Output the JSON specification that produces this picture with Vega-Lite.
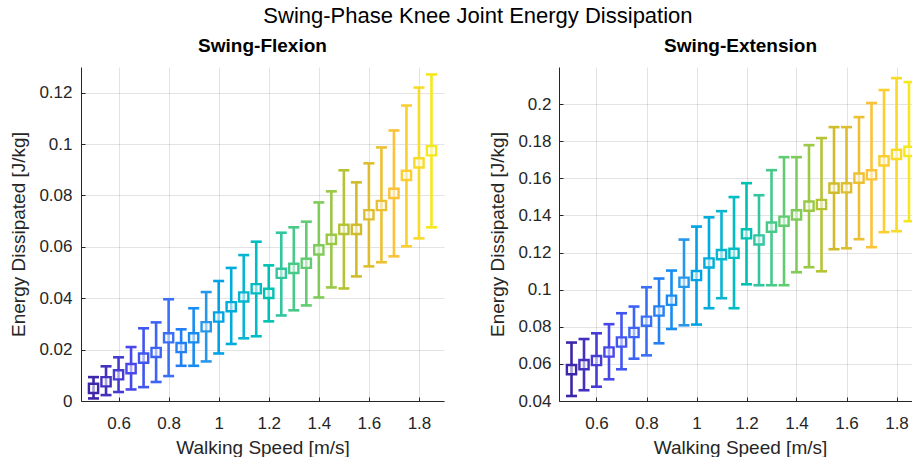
{
  "$schema": "https://vega.github.io/schema/vega-lite/v6.json",
  "padding": {"left": 9, "top": 5, "right": 0, "bottom": 0},
  "background": "white",
  "title": {"text": "Swing-Phase Knee Joint Energy Dissipation", "fontSize": 22, "font": "Liberation Sans", "fontWeight": "normal", "color": "#000000", "anchor": "middle", "offset": 9, "dx": 17},
  "datasets": {
    "flex": [
      {"speed": 0.5, "mean": 0.0049, "lo": 0.001, "hi": 0.0093},
      {"speed": 0.55, "mean": 0.0075, "lo": 0.0023, "hi": 0.0135},
      {"speed": 0.6, "mean": 0.0102, "lo": 0.0035, "hi": 0.017},
      {"speed": 0.65, "mean": 0.0126, "lo": 0.0045, "hi": 0.021},
      {"speed": 0.7, "mean": 0.0167, "lo": 0.0054, "hi": 0.0283},
      {"speed": 0.75, "mean": 0.0189, "lo": 0.0074, "hi": 0.0306},
      {"speed": 0.8, "mean": 0.0246, "lo": 0.0097, "hi": 0.0396},
      {"speed": 0.85, "mean": 0.0208, "lo": 0.0137, "hi": 0.0279},
      {"speed": 0.9, "mean": 0.0246, "lo": 0.0137, "hi": 0.0361},
      {"speed": 0.95, "mean": 0.0289, "lo": 0.0154, "hi": 0.0424},
      {"speed": 1.0, "mean": 0.0327, "lo": 0.0185, "hi": 0.0467},
      {"speed": 1.05, "mean": 0.0367, "lo": 0.0222, "hi": 0.0518},
      {"speed": 1.1, "mean": 0.0405, "lo": 0.0244, "hi": 0.0568},
      {"speed": 1.15, "mean": 0.0437, "lo": 0.0252, "hi": 0.062},
      {"speed": 1.2, "mean": 0.0419, "lo": 0.031, "hi": 0.0528},
      {"speed": 1.25, "mean": 0.0497, "lo": 0.0333, "hi": 0.0655},
      {"speed": 1.3, "mean": 0.0516, "lo": 0.0353, "hi": 0.0676},
      {"speed": 1.35, "mean": 0.0536, "lo": 0.0372, "hi": 0.0698},
      {"speed": 1.4, "mean": 0.0588, "lo": 0.0403, "hi": 0.0773},
      {"speed": 1.45, "mean": 0.0629, "lo": 0.0442, "hi": 0.0816},
      {"speed": 1.5, "mean": 0.0668, "lo": 0.0438, "hi": 0.0898},
      {"speed": 1.55, "mean": 0.0668, "lo": 0.0485, "hi": 0.0851},
      {"speed": 1.6, "mean": 0.0725, "lo": 0.0524, "hi": 0.0925},
      {"speed": 1.65, "mean": 0.0761, "lo": 0.054, "hi": 0.0987},
      {"speed": 1.7, "mean": 0.0808, "lo": 0.0563, "hi": 0.1053},
      {"speed": 1.75, "mean": 0.0878, "lo": 0.0602, "hi": 0.115},
      {"speed": 1.8, "mean": 0.0927, "lo": 0.0633, "hi": 0.122},
      {"speed": 1.85, "mean": 0.0974, "lo": 0.0676, "hi": 0.1271}
    ],
    "ext": [
      {"speed": 0.5, "mean": 0.0569, "lo": 0.0427, "hi": 0.0715},
      {"speed": 0.55, "mean": 0.0596, "lo": 0.0458, "hi": 0.0734},
      {"speed": 0.6, "mean": 0.0618, "lo": 0.0477, "hi": 0.0765},
      {"speed": 0.65, "mean": 0.0664, "lo": 0.0517, "hi": 0.0814},
      {"speed": 0.7, "mean": 0.0718, "lo": 0.0571, "hi": 0.0873},
      {"speed": 0.75, "mean": 0.0769, "lo": 0.0628, "hi": 0.0909},
      {"speed": 0.8, "mean": 0.083, "lo": 0.0646, "hi": 0.1013},
      {"speed": 0.85, "mean": 0.0885, "lo": 0.0711, "hi": 0.106},
      {"speed": 0.9, "mean": 0.0943, "lo": 0.0788, "hi": 0.1103},
      {"speed": 0.95, "mean": 0.104, "lo": 0.0808, "hi": 0.127},
      {"speed": 1.0, "mean": 0.1076, "lo": 0.0812, "hi": 0.134},
      {"speed": 1.05, "mean": 0.1144, "lo": 0.09, "hi": 0.139},
      {"speed": 1.1, "mean": 0.1189, "lo": 0.0954, "hi": 0.1423},
      {"speed": 1.15, "mean": 0.1196, "lo": 0.09, "hi": 0.1499},
      {"speed": 1.2, "mean": 0.1301, "lo": 0.1029, "hi": 0.1574},
      {"speed": 1.25, "mean": 0.1268, "lo": 0.1024, "hi": 0.1509},
      {"speed": 1.3, "mean": 0.1337, "lo": 0.1024, "hi": 0.1644},
      {"speed": 1.35, "mean": 0.1369, "lo": 0.1024, "hi": 0.1714},
      {"speed": 1.4, "mean": 0.1403, "lo": 0.1094, "hi": 0.1714},
      {"speed": 1.45, "mean": 0.145, "lo": 0.1121, "hi": 0.1779},
      {"speed": 1.5, "mean": 0.1459, "lo": 0.1099, "hi": 0.1817},
      {"speed": 1.55, "mean": 0.1547, "lo": 0.1218, "hi": 0.1876},
      {"speed": 1.6, "mean": 0.1549, "lo": 0.1223, "hi": 0.1876},
      {"speed": 1.65, "mean": 0.1601, "lo": 0.1272, "hi": 0.193},
      {"speed": 1.7, "mean": 0.1619, "lo": 0.1229, "hi": 0.2006},
      {"speed": 1.75, "mean": 0.1694, "lo": 0.131, "hi": 0.2076},
      {"speed": 1.8, "mean": 0.1729, "lo": 0.1315, "hi": 0.214},
      {"speed": 1.85, "mean": 0.1745, "lo": 0.1369, "hi": 0.2119}
    ]
  },
  "bounds": "flush",
  "spacing": 115,
  "hconcat": [
    {
      "width": 363,
      "height": 334,
      "title": {"text": "Swing-Flexion", "fontSize": 19, "fontWeight": "bold", "font": "Liberation Sans", "color": "#000000", "offset": 11, "anchor": "middle"},
      "data": {"name": "flex"},
      "encoding": {
        "x": {"field": "speed", "type": "quantitative", "scale": {"domain": [0.45, 1.9], "nice": false, "zero": false},
              "axis": {"title": "Walking Speed [m/s]", "values": [0.6, 0.8, 1, 1.2, 1.4, 1.6, 1.8], "format": "~g", "tickSize": -4, "labelPadding": 18, "titlePadding": 7, "grid": true}},
        "color": {"field": "speed", "type": "quantitative", "legend": null,
                  "scale": {"domain": [0.5, 0.65, 0.8, 0.95, 1.1, 1.25, 1.4, 1.55, 1.7, 1.85],
                            "range": ["#3E26A8", "#4847EB", "#3A70F8", "#2797EB", "#08B5D0", "#31C69F", "#80CC59", "#D0BC2B", "#FBC23A", "#F5E81C"]}}
      },
      "layer": [
        {"mark": {"type": "rule", "strokeWidth": 2.6, "opacity": 1},
         "encoding": {"y": {"field": "lo", "type": "quantitative", "title": "Energy Dissipated [J/kg]",
                            "scale": {"domain": [0, 0.13], "nice": false, "zero": false},
                            "axis": {"values": [0, 0.02, 0.04, 0.06, 0.08, 0.1, 0.12], "format": "~g", "tickSize": -4, "labelPadding": 13, "titlePadding": 10, "grid": true}},
                      "y2": {"field": "hi"}}},
        {"mark": {"type": "tick", "orient": "horizontal", "size": 11, "thickness": 2.6, "opacity": 1},
         "encoding": {"y": {"field": "lo", "type": "quantitative", "title": "Energy Dissipated [J/kg]"}}},
        {"mark": {"type": "tick", "orient": "horizontal", "size": 11, "thickness": 2.6, "opacity": 1},
         "encoding": {"y": {"field": "hi", "type": "quantitative", "title": "Energy Dissipated [J/kg]"}}},
        {"mark": {"type": "point", "shape": "square", "size": 85, "strokeWidth": 2.4, "filled": false, "fill": "white", "fillOpacity": 0.55, "opacity": 1},
         "encoding": {"y": {"field": "mean", "type": "quantitative", "title": "Energy Dissipated [J/kg]"}}}
      ]
    },
    {
      "width": 353,
      "height": 334,
      "title": {"text": "Swing-Extension", "fontSize": 19, "fontWeight": "bold", "font": "Liberation Sans", "color": "#000000", "offset": 11, "anchor": "middle", "dx": 5},
      "data": {"name": "ext"},
      "encoding": {
        "x": {"field": "speed", "type": "quantitative", "scale": {"domain": [0.45, 1.862], "nice": false, "zero": false},
              "axis": {"title": "Walking Speed [m/s]", "values": [0.6, 0.8, 1, 1.2, 1.4, 1.6, 1.8], "format": "~g", "tickSize": -4, "labelPadding": 18, "titlePadding": 7, "grid": true, "titleX": 181}},
        "color": {"field": "speed", "type": "quantitative", "legend": null,
                  "scale": {"domain": [0.5, 0.65, 0.8, 0.95, 1.1, 1.25, 1.4, 1.55, 1.7, 1.85],
                            "range": ["#3E26A8", "#4847EB", "#3A70F8", "#2797EB", "#08B5D0", "#31C69F", "#80CC59", "#D0BC2B", "#FBC23A", "#F5E81C"]}}
      },
      "layer": [
        {"mark": {"type": "rule", "strokeWidth": 2.6, "opacity": 1, "clip": true},
         "encoding": {"y": {"field": "lo", "type": "quantitative", "title": "Energy Dissipated [J/kg]",
                            "scale": {"domain": [0.04, 0.22], "nice": false, "zero": false},
                            "axis": {"values": [0.04, 0.06, 0.08, 0.1, 0.12, 0.14, 0.16, 0.18, 0.2], "format": "~g", "tickSize": -4, "labelPadding": 12, "titlePadding": 10, "grid": true}},
                      "y2": {"field": "hi"}}},
        {"mark": {"type": "tick", "orient": "horizontal", "size": 11, "thickness": 2.6, "opacity": 1, "clip": true},
         "encoding": {"y": {"field": "lo", "type": "quantitative", "title": "Energy Dissipated [J/kg]"}}},
        {"mark": {"type": "tick", "orient": "horizontal", "size": 11, "thickness": 2.6, "opacity": 1, "clip": true},
         "encoding": {"y": {"field": "hi", "type": "quantitative", "title": "Energy Dissipated [J/kg]"}}},
        {"mark": {"type": "point", "shape": "square", "size": 85, "strokeWidth": 2.4, "filled": false, "fill": "white", "fillOpacity": 0.55, "opacity": 1, "clip": true},
         "encoding": {"y": {"field": "mean", "type": "quantitative", "title": "Energy Dissipated [J/kg]"}}}
      ]
    }
  ],
  "config": {
    "font": "Liberation Sans",
    "view": {"stroke": null},
    "axis": {
      "labelFont": "Liberation Sans", "labelFontSize": 17, "labelColor": "#262626",
      "titleFont": "Liberation Sans", "titleFontSize": 19, "titleFontWeight": "normal", "titleColor": "#262626",
      "domainColor": "#262626", "domainWidth": 1, "tickColor": "#262626", "tickWidth": 1,
      "gridColor": "#262626", "gridOpacity": 0.13, "gridWidth": 1
    }
  }
}
